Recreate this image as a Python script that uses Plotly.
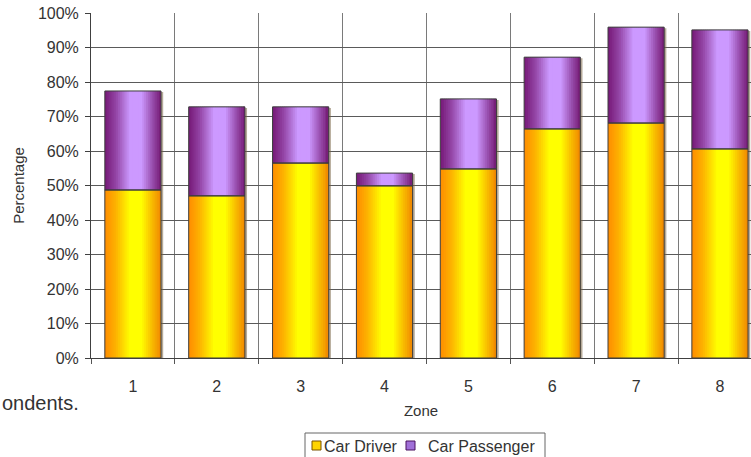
import numpy as np
import plotly.graph_objects as go

# Zone survey: share of respondents travelling as car driver / car passenger (%)
zones = [1, 2, 3, 4, 5, 6, 7, 8]
zone_labels = ["1", "2", "3", "4", "5", "6", "7", "8"]
car_driver = [48.7, 47.0, 56.5, 49.9, 54.8, 66.4, 68.1, 60.6]
car_passenger = [28.7, 25.8, 16.3, 3.7, 20.3, 20.8, 27.8, 34.5]
y_ticks = [0, 10, 20, 30, 40, 50, 60, 70, 80, 90, 100]
y_labels = [f"{v}%" for v in y_ticks]
series_names = ["Car Driver", "Car Passenger"]

BAR_W = 0.67
N_SLICES = 30
FONT = "Liberation Sans, Arial, sans-serif"
TXT = "#333333"

# plot-area geometry (px) used for placing legend items in paper coordinates
W, H = 751, 457
ML, MT, MB = 91, 13, 99
PW = 660
PH = H - MT - MB


def px_x(px):
    return (px - ML) / PW


def px_y(py):
    return (H - MB - py) / PH


totals = [d + p for d, p in zip(car_driver, car_passenger)]

# horizontal shading profile across a bar (0 = edge colour, 1 = highlight)
prof_t = [0.0, 0.2, 0.45, 0.65, 0.85, 1.0]
prof_v = [0.0, 0.35, 1.0, 1.0, 0.4, 0.0]


def mix(c0, c1, a):
    return "rgb({},{},{})".format(*[int(round(x0 + (x1 - x0) * a)) for x0, x1 in zip(c0, c1)])


def shaded_bars(fig, base, height, edge_l, edge_r, center):
    sw = BAR_W / N_SLICES
    for i in range(N_SLICES):
        t = (i + 0.5) / N_SLICES
        a = float(np.interp(t, prof_t, prof_v))
        edge = [l + (r - l) * t for l, r in zip(edge_l, edge_r)]
        last = i == N_SLICES - 1
        fig.add_trace(go.Bar(
            x=zones, y=height, base=base,
            width=sw if last else sw * 1.6,
            offset=-BAR_W / 2 + i * sw,
            marker=dict(color=mix(edge, center, a), line=dict(width=0)),
            showlegend=False, hoverinfo="skip",
        ))


fig = go.Figure()

# soft drop shadow behind each stacked column
fig.add_trace(go.Bar(
    x=zones, y=[t + 0.3 for t in totals], base=-0.6, width=BAR_W,
    offset=-BAR_W / 2 + 0.026,
    marker=dict(color="rgba(120,100,70,0.55)", line=dict(width=0)),
    showlegend=False, hoverinfo="skip",
))

# gradient shading
shaded_bars(fig, [0] * len(zones), car_driver, (255, 140, 0), (240, 135, 0), (255, 255, 0))
shaded_bars(fig, car_driver, car_passenger, (118, 24, 118), (116, 26, 116), (204, 153, 255))

# outlines on top
for nm, b, h in ((series_names[0], 0, car_driver), (series_names[1], car_driver, car_passenger)):
    fig.add_trace(go.Bar(
        x=zones, y=h, base=b, width=BAR_W, offset=-BAR_W / 2, name=nm,
        marker=dict(color="rgba(0,0,0,0)", line=dict(color="#3c3c3c", width=1)),
        showlegend=False,
    ))

# legend box with colour keys
key_fill = ["#FFD400", "#A070D8"]
key_line = ["#7a5200", "#4a1060"]
key_x = [312, 406]
text_x = [322, 426]
shapes = [dict(type="rect", xref="paper", yref="paper",
               x0=px_x(305), x1=px_x(545), y0=px_y(433), y1=px_y(470),
               line=dict(color="#666666", width=1), fillcolor="white", layer="above")]
annotations = []
for i, nm in enumerate(series_names):
    shapes.append(dict(type="rect", xref="paper", yref="paper",
                       x0=px_x(key_x[i]), x1=px_x(key_x[i] + 9),
                       y0=px_y(441), y1=px_y(450),
                       line=dict(color=key_line[i], width=1), fillcolor=key_fill[i],
                       layer="above"))
    annotations.append(dict(text=nm, xref="paper", yref="paper",
                            x=px_x(text_x[i]), xanchor="left", y=px_y(446), yanchor="middle",
                            showarrow=False, font=dict(family=FONT, size=16, color=TXT)))

annotations.append(dict(
    text="ondents.", xref="paper", yref="paper",
    x=px_x(0), xanchor="left", y=px_y(403), yanchor="middle",
    showarrow=False, font=dict(family=FONT, size=20, color="#333333"),
))

fig.update_layout(
    width=W, height=H,
    margin=dict(l=ML, r=0, t=MT, b=MB, autoexpand=False),
    barmode="overlay",
    plot_bgcolor="white", paper_bgcolor="white",
    font=dict(family=FONT, size=16, color=TXT),
    showlegend=False,
    xaxis=dict(
        range=[0.5, 0.5 + PW / 83.86], tickmode="array", tickvals=zones, ticktext=zone_labels,
        ticks="", showgrid=False, zeroline=False, automargin=False,
        showline=True, linecolor="#404040", linewidth=1,
        ticklabelstandoff=14,
        tickfont=dict(family=FONT, size=16, color=TXT),
        minor=dict(tick0=0.5, dtick=1, ticks="outside", ticklen=5, tickcolor="#555555",
                   showgrid=True, gridcolor="#7a7a7a", gridwidth=1),
        title=dict(text="Zone", standoff=11, font=dict(family=FONT, size=15, color=TXT)),
    ),
    yaxis=dict(
        range=[0, 100], tickmode="array", tickvals=y_ticks, ticktext=y_labels,
        ticks="outside", ticklen=5, tickcolor="#404040",
        showgrid=True, gridcolor="#5a5a5a", gridwidth=1, zeroline=False, automargin=False,
        showline=True, linecolor="#404040", linewidth=1,
        ticklabelstandoff=3,
        tickfont=dict(family=FONT, size=16, color=TXT),
        title=dict(text="Percentage", standoff=9, font=dict(family=FONT, size=15, color=TXT)),
    ),
    shapes=shapes,
    annotations=annotations,
)

fig.write_html("out.html")
